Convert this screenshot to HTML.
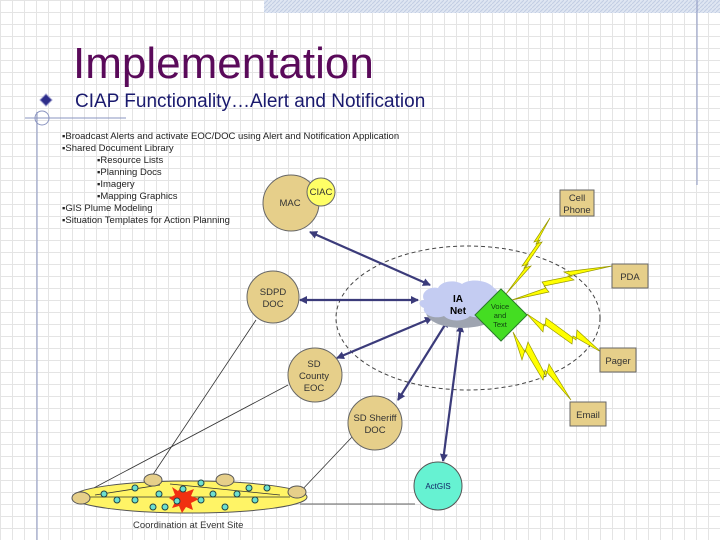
<!DOCTYPE html>
<html><head><meta charset="utf-8"><style>
body{margin:0;width:720px;height:540px;overflow:hidden;background:#fff;font-family:"Liberation Sans",sans-serif}
#c{position:relative;width:720px;height:540px;
background-image:linear-gradient(#e4e4e4 1px,transparent 1px),linear-gradient(90deg,#e4e4e4 1px,transparent 1px);background-size:12px 12px}
</style></head><body><div id="c">
<svg width="720" height="540" style="position:absolute;left:0;top:0" font-family="Liberation Sans, sans-serif">
<defs>
<pattern id="h" width="4" height="4" patternUnits="userSpaceOnUse"><rect width="4" height="4" fill="#dfe6f2"/><path d="M0 4L4 0" stroke="#c2cde3" stroke-width="1"/></pattern>
<marker id="a" markerWidth="8" markerHeight="8" refX="7" refY="4" orient="auto-start-reverse" markerUnits="userSpaceOnUse"><path d="M0 0L8 4L0 8z" fill="#3b3b7a"/></marker>
</defs>
<rect x="264" y="0" width="456" height="13" fill="url(#h)"/>
<line x1="697" y1="0" x2="697" y2="185" stroke="#8a94c0"/>
<text x="73" y="78" font-size="44" fill="#5a0a5a">Implementation</text>
<path d="M40 100l6-6 6 6-6 6z" fill="#2d2d8a" stroke="#9999cc"/>
<text x="75" y="107" font-size="19" fill="#1a1a6e">CIAP Functionality…Alert and Notification</text>
<line x1="25" y1="118" x2="126" y2="118" stroke="#8a94c0"/>
<circle cx="42" cy="118" r="7" fill="none" stroke="#8a94c0"/>
<line x1="37" y1="112" x2="37" y2="540" stroke="#8a94c0"/>
<g font-size="9.5" fill="#222">
<text x="62" y="139">▪Broadcast Alerts and activate EOC/DOC using Alert and Notification Application</text>
<text x="62" y="151">▪Shared Document Library</text>
<text x="97" y="163">▪Resource Lists</text>
<text x="97" y="175">▪Planning Docs</text>
<text x="97" y="187">▪Imagery</text>
<text x="97" y="199">▪Mapping Graphics</text>
<text x="62" y="211">▪GIS Plume Modeling</text>
<text x="62" y="223">▪Situation Templates for Action Planning</text>
</g>
<ellipse cx="468" cy="318" rx="132" ry="72" fill="none" stroke="#444" stroke-dasharray="4,3"/>
<!-- thin lines -->
<g stroke="#333" stroke-width="0.8">
<line x1="256" y1="320" x2="152" y2="476"/>
<line x1="288" y1="385" x2="90" y2="490"/>
<line x1="352" y1="437" x2="300" y2="492"/>
<line x1="300" y1="504" x2="415" y2="504"/>
</g>
<!-- event site -->
<ellipse cx="190" cy="497" rx="117" ry="16" fill="#fff466" stroke="#555"/>
<g stroke="#333" stroke-width="0.8"><line x1="90" y1="497" x2="290" y2="497"/><line x1="95" y1="495" x2="160" y2="485"/><line x1="170" y1="484" x2="280" y2="495"/></g>
<path d="M172 487l6 4 5-6 3 7 8-3-3 7 8 3-8 4 2 7-7-3-4 6-3-7-7 2 3-6-6-4 6-3z" fill="#f03010"/>
<g fill="#6ce0d0" stroke="#244">
<circle cx="104" cy="494" r="3"/><circle cx="117" cy="500" r="3"/><circle cx="135" cy="488" r="3"/><circle cx="135" cy="500" r="3"/><circle cx="159" cy="494" r="3"/><circle cx="153" cy="507" r="3"/><circle cx="165" cy="507" r="3"/><circle cx="183" cy="489" r="3"/><circle cx="177" cy="501" r="3"/><circle cx="201" cy="483" r="3"/><circle cx="201" cy="500" r="3"/><circle cx="213" cy="494" r="3"/><circle cx="225" cy="507" r="3"/><circle cx="237" cy="494" r="3"/><circle cx="249" cy="488" r="3"/><circle cx="255" cy="500" r="3"/><circle cx="267" cy="488" r="3"/>
</g>
<g fill="#e6cf8a" stroke="#555">
<ellipse cx="81" cy="498" rx="9" ry="6"/><ellipse cx="153" cy="480" rx="9" ry="6"/><ellipse cx="225" cy="480" rx="9" ry="6"/><ellipse cx="297" cy="492" rx="9" ry="6"/>
</g>
<text x="133" y="528" font-size="9.5" fill="#333">Coordination at Event Site</text>
<!-- arrows -->
<g stroke="#3b3b7a" stroke-width="2.2" fill="none">
<line x1="310" y1="232" x2="430" y2="285" marker-start="url(#a)" marker-end="url(#a)"/>
<line x1="300" y1="300" x2="418" y2="300" marker-start="url(#a)" marker-end="url(#a)"/>
<line x1="337" y1="358" x2="432" y2="318" marker-start="url(#a)" marker-end="url(#a)"/>
<line x1="398" y1="400" x2="448" y2="320" marker-start="url(#a)" marker-end="url(#a)"/>
<line x1="443" y1="461" x2="461" y2="325" marker-start="url(#a)" marker-end="url(#a)"/>
</g>
<!-- lightning -->
<g fill="#ffff00" stroke="#999900" stroke-width="0.7">
<path d="M506 294l22-30-6 2 18-26-6 2 16-24-14 26 6-2-18 26 7-2z"/>
<path d="M512 300l34-12-4-6 30-6-8-4 48-6-44 10 6 4-30 6 5 6z"/>
<path d="M527 314l18 12 1-8 30 22 1-10 24 22-28-16-1 8-28-20-1 8z"/>
<path d="M513 332l12 20 3-10 18 34 3-12 22 36-26-30-2 10-18-30-3 10z"/>
</g>
<!-- cloud -->
<g fill="#9ea4b0"><ellipse cx="462" cy="312" rx="36" ry="16"/></g>
<path d="M424 300c-4-8 6-14 14-12 4-8 18-8 24-4 8-6 26-4 32 4 8 4 4 16-4 18 2 8-10 14-20 10-6 6-20 6-26 0-10 4-22-2-20-8-6-2-6-8 0-8z" fill="#c4ccf2"/>
<text x="458" y="302" font-size="10" font-weight="bold" text-anchor="middle">IA</text>
<text x="458" y="314" font-size="10" font-weight="bold" text-anchor="middle">Net</text>
<path d="M501 289l26 26-26 26-26-26z" fill="#44dd22" stroke="#2a7a2a"/>
<g font-size="7.5" fill="#114411" text-anchor="middle"><text x="500" y="309">Voice</text><text x="500" y="318">and</text><text x="500" y="327">Text</text></g>
<!-- circles -->
<g fill="#e6cf8a" stroke="#666">
<circle cx="291" cy="203" r="28"/>
<circle cx="273" cy="297" r="26"/>
<circle cx="315" cy="375" r="27"/>
<circle cx="375" cy="423" r="27"/>
</g>
<circle cx="321" cy="192" r="14" fill="#ffff66" stroke="#666"/>
<circle cx="438" cy="486" r="24" fill="#66f2d2" stroke="#555"/>
<g font-size="9.5" fill="#333" text-anchor="middle">
<text x="290" y="206">MAC</text><text x="321" y="195">CIAC</text>
<text x="273" y="295">SDPD</text><text x="273" y="307">DOC</text>
<text x="314" y="367">SD</text><text x="314" y="379">County</text><text x="314" y="391">EOC</text>
<text x="375" y="421">SD Sheriff</text><text x="375" y="433">DOC</text>
<text x="438" y="489" font-size="8" fill="#126">ActGIS</text>
</g>
<g fill="#e6cf8a" stroke="#666">
<rect x="560" y="190" width="34" height="26"/>
<rect x="612" y="264" width="36" height="24"/>
<rect x="600" y="348" width="36" height="24"/>
<rect x="570" y="402" width="36" height="24"/>
</g>
<g font-size="9.5" fill="#333" text-anchor="middle">
<text x="577" y="201">Cell</text><text x="577" y="213">Phone</text>
<text x="630" y="280">PDA</text><text x="618" y="364">Pager</text><text x="588" y="418">Email</text>
</g>
</svg></div></body></html>
